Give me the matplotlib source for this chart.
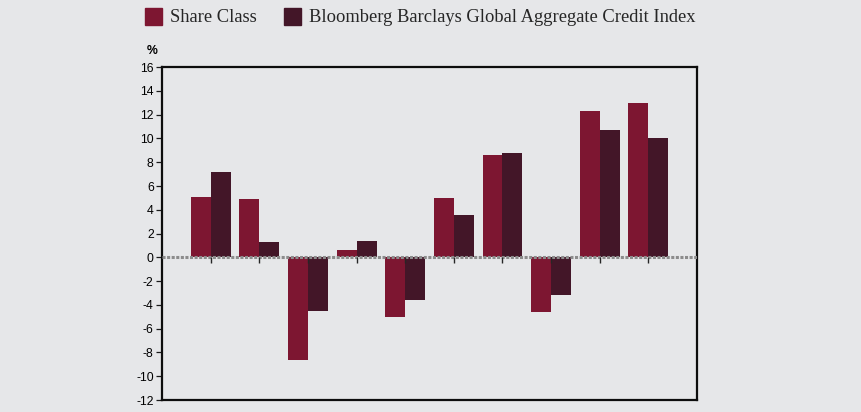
import numpy as np
import matplotlib
matplotlib.use("Agg")
import matplotlib.pyplot as plt
from matplotlib.patches import Rectangle

# values, one pair per period
periods = list(range(1, 11))
share_class = [5.1, 4.9, -8.6, 0.6, -5.0, 5.0, 8.6, -4.6, 12.3, 13.0]
index_vals = [7.2, 1.3, -4.5, 1.4, -3.6, 3.6, 8.8, -3.2, 10.7, 10.0]
yticks = list(range(-12, 17, 2))
legend_labels = ["Share Class", "Bloomberg Barclays Global Aggregate Credit Index"]

SHARE, INDEX, BG = "#7d1631", "#431628", "#e6e7e9"

fig = plt.figure(figsize=(8.62, 4.12), dpi=100, facecolor=BG)
ax = fig.add_axes([0.188, 0.029, 0.6206, 0.808], facecolor=BG)

x = np.array(periods, dtype=float)
w = 0.41
ax.bar(x - w, share_class, width=w, align="edge", color=SHARE, zorder=2)
ax.bar(x, index_vals, width=w, align="edge", color=INDEX, zorder=2)

ax.set_xlim(0, 11)
ax.set_ylim(-12, 16)
ax.set_yticks(yticks)
ax.set_yticklabels([str(v) for v in yticks], family="Liberation Sans", fontsize=8.8)
ax.tick_params(axis="y", direction="out", length=4, width=0.9, pad=2, color="0.1")
ax.set_xticks([])

# dotted zero line and the small period ticks hanging below it
ax.axhline(0, color="0.55", lw=2.2, ls=(0, (1, 0.5)), zorder=3)
ax.vlines(x, -0.45, 0, color="0.15", lw=1.0, zorder=3)

for s in ax.spines.values():
    s.set_linewidth(1.6)
    s.set_color("0.05")

fig.text(0.170, 0.875, "%", family="Liberation Sans", fontsize=8.8, fontweight="bold",
         ha="left", va="center")

# legend drawn by hand along the top
for px, label, col, tx in [(145, legend_labels[0], SHARE, 170), (284, legend_labels[1], INDEX, 309)]:
    fig.patches.append(Rectangle((px / 862, 1 - 25 / 412), 17 / 862, 17 / 412,
                                 transform=fig.transFigure, color=col))
    fig.text(tx / 862, 1 - 17 / 412, label, family="Liberation Serif", fontsize=13.3,
             ha="left", va="center", color="0.15")

fig.savefig("out.png", dpi=100, facecolor=BG)
